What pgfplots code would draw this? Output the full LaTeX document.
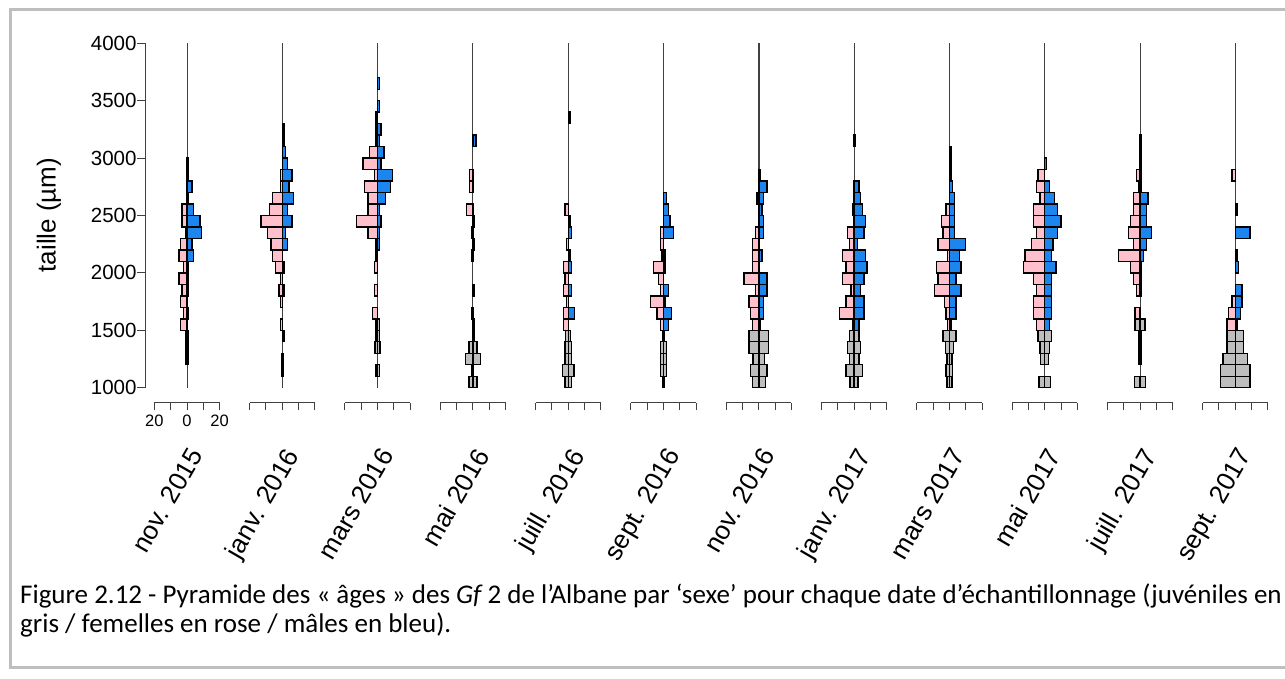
\documentclass[border=0pt]{standalone}
\usepackage{pgfplots}
\pgfplotsset{compat=1.18}
\usepackage{pgfplotstable}
\usepackage{fontspec}
\setmainfont{Liberation Sans}
\newfontfamily\carlito{Carlito}
\definecolor{rpink}{HTML}{FFC0CB}
\definecolor{rblue}{HTML}{1C86EE}
\definecolor{rgrey}{HTML}{BEBEBE}
\definecolor{axgrey}{HTML}{404040}

% columns: y = bin centre (um), f = females, m = males, j = juveniles
\pgfplotstableread{
y f m j
2950 0 1 0
2850 0 1 0
2750 0 3 0
2650 0 1 0
2550 3 4 0
2450 3 8 0
2350 1 9 0
2250 4 3 0
2150 5 4 0
2050 2 1 0
1950 5 1 0
1850 3 1 0
1750 4 0 0
1650 2 1 0
1550 4 0 0
1450 0 0 2
1350 0 1 2
1250 0 0 1
}\tA
\pgfplotstableread{
y f m j
3250 0 1 0
3150 0 1 0
3050 0 2 0
2950 0 3 0
2850 1 6 0
2750 1 4 0
2650 6 7 0
2550 8 3 0
2450 13 6 0
2350 9 2 0
2250 7 3 0
2150 6 0 0
2050 4 1 0
1950 1 0 0
1850 2 1 0
1750 1 0 0
1550 1 0 0
1450 0 1 0
1250 0 0 1
1150 0 0 1
}\tB
\pgfplotstableread{
y f m j
3650 0 1 0
3450 0 1 0
3350 1 0 0
3250 1 2 0
3150 1 1 0
3050 5 4 0
2950 9 2 0
2850 2 9 0
2750 8 8 0
2650 6 5 0
2550 6 1 0
2450 13 2 0
2350 6 1 0
2250 1 1 0
2150 1 0 0
2050 2 0 0
1850 2 0 0
1650 3 0 0
1550 0 0 2
1450 0 0 2
1350 0 0 3
1150 0 0 2
}\tC
\pgfplotstableread{
y f m j
3150 0 2 0
2850 2 0 0
2750 2 0 0
2550 4 0 0
2450 0 1 0
2350 1 0 0
2250 0 1 0
2150 1 0 0
1850 0 1 0
1650 1 0 0
1550 0 1 0
1450 0 1 0
1350 0 0 5
1250 0 0 9
1150 0 0 1
1050 0 0 5
}\tD
\pgfplotstableread{
y f m j
3350 0 1 0
2550 2 0 0
2450 0 1 0
2350 0 2 0
2250 1 0 0
2150 0 1 0
2050 3 2 0
1950 2 0 0
1850 3 2 0
1750 1 0 0
1650 3 4 0
1550 3 0 0
1450 0 0 3
1350 0 0 4
1250 0 0 4
1150 0 0 7
1050 0 0 4
}\tE
\pgfplotstableread{
y f m j
2650 0 2 0
2550 0 3 0
2450 0 4 0
2350 2 6 0
2250 2 0 0
2150 1 1 0
2050 6 1 0
1950 3 0 0
1850 2 3 0
1750 8 1 0
1650 4 5 0
1550 2 3 0
1450 0 0 1
1350 0 0 4
1250 0 0 4
1150 0 0 4
1050 0 0 1
}\tF
\pgfplotstableread{
y f m j
2850 0 1 0
2750 0 5 0
2650 1 3 0
2550 0 2 0
2450 0 3 0
2350 2 3 0
2250 4 0 0
2150 4 2 0
2050 4 0 0
1950 9 5 0
1850 2 5 0
1750 6 3 0
1650 5 3 0
1550 4 1 0
1450 0 0 12
1350 0 0 12
1250 0 0 7
1150 0 0 10
1050 0 0 8
}\tG
\pgfplotstableread{
y f m j
3150 0 1 0
2750 0 3 0
2650 0 4 0
2550 1 5 0
2450 0 7 0
2350 4 6 0
2250 3 2 0
2150 7 7 0
2050 5 8 0
1950 7 6 0
1850 2 4 0
1750 5 6 0
1650 9 6 0
1550 1 3 0
1450 0 0 6
1350 0 0 8
1250 0 0 6
1150 0 0 10
1050 0 0 5
}\tH
\pgfplotstableread{
y f m j
3050 0 1 0
2950 0 1 0
2850 0 1 0
2750 0 2 0
2650 0 3 0
2550 2 3 0
2450 5 3 0
2350 4 3 0
2250 7 10 0
2150 1 6 0
2050 8 7 0
1950 7 4 0
1850 9 7 0
1750 3 4 0
1650 2 4 0
1550 1 1 0
1450 0 0 8
1350 0 0 5
1250 0 0 3
1150 0 0 4
1050 0 0 3
}\tI
\pgfplotstableread{
y f m j
2950 0 1 0
2850 4 0 0
2750 5 3 0
2650 3 6 0
2550 7 8 0
2450 7 10 0
2350 5 8 0
2250 8 5 0
2150 12 4 0
2050 13 7 0
1950 7 4 0
1850 5 4 0
1750 7 4 0
1650 7 4 0
1550 5 3 0
1450 0 0 8
1350 0 0 6
1250 0 0 5
1050 0 0 7
}\tJ
\pgfplotstableread{
y f m j
3150 0 1 0
3050 0 1 0
2950 0 1 0
2850 2 1 0
2750 1 1 0
2650 4 5 0
2550 4 4 0
2450 6 4 0
2350 7 7 0
2250 4 4 0
2150 13 2 0
2050 6 1 0
1950 4 1 0
1850 2 1 0
1650 3 0 0
1550 0 0 6
1450 0 0 1
1350 0 0 1
1250 0 0 1
1050 0 0 7
}\tK
\pgfplotstableread{
y f m j
2850 2 0 0
2550 0 1 0
2350 0 9 0
2150 0 1 0
2050 0 2 0
1850 0 4 0
1750 2 4 0
1650 4 3 0
1550 5 1 0
1450 0 0 10
1350 0 0 10
1250 0 0 15
1150 0 0 18
1050 0 0 18
}\tL

\pgfplotsset{
  panel/.style={
    xbar, scale only axis, width=65.3pt, height=359.4pt,
    anchor=south west,
    xmin=-20, xmax=20, ymin=869.3, ymax=4000,
    axis x line*=bottom, axis y line=none,
    xtick={-20,-10,0,10,20}, xticklabels={},
    tick align=outside, major tick length=7.5pt,
    x axis line style={-, draw=axgrey, line width=1pt},
    xtick style={draw=axgrey, line width=1pt},
    clip=false,
  },
  bar/.style={bar shift=0pt, bar width=100, draw=black, line width=1.4pt},
  fem/.style={bar, fill=rpink},
  mal/.style={bar, fill=rblue},
  juv/.style={bar, fill=rgrey},
  centre/.style={sharp plot, draw=black!75, line width=0.9pt, forget plot},
}

% #1 centre x (px), #2 table, #3 date, #4 centre-line width
\newcommand{\panel}[4]{%
  \begin{axis}[panel, at={(#1pt-32.65pt,276.3pt)}]
    \addplot[centre, line width=#4] coordinates {(0,1000) (0,4000)};
    \addplot[fem] table[x expr=-\thisrow{f}, y=y, restrict expr to domain={\thisrow{f}}{0.5:100}] {#2};
    \addplot[mal] table[x expr=\thisrow{m}, y=y, restrict expr to domain={\thisrow{m}}{0.5:100}] {#2};
    \addplot[juv] table[x expr=-\thisrow{j}/2, y=y, restrict expr to domain={\thisrow{j}}{0.5:100}] {#2};
    \addplot[juv] table[x expr=\thisrow{j}/2, y=y, restrict expr to domain={\thisrow{j}}{0.5:100}] {#2};
  \end{axis}
  \node[rotate=60, anchor=north east, font=\fontsize{26}{30}\selectfont, inner sep=0pt] at (#1pt+1pt, 679pt-446pt) {#3};
}

\begin{document}
\begin{tikzpicture}[x=1pt, y=1pt]
\useasboundingbox (0,0) rectangle (1285,679);
\draw[draw=rgrey, line width=3pt] (10,679-10) rectangle (1300,679-668);

% y axis
\begin{axis}[scale only axis, width=20pt, height=344.4pt, anchor=south west,
  at={(145pt,291.3pt)}, xmin=0, xmax=1, ymin=1000, ymax=4000,
  axis y line*=left, axis x line=none,
  ytick={1000,1500,...,4000}, tick align=outside, major tick length=8pt,
  y axis line style={-, draw=axgrey, line width=1pt},
  ytick style={draw=axgrey, line width=1pt},
  yticklabel style={font=\fontsize{20.5}{24}\selectfont, xshift=3pt, /pgf/number format/1000 sep={}, /pgf/number format/assume math mode=true},
  ]
\end{axis}
\node[rotate=90, font=\fontsize{26}{30}\selectfont] at (49,679-215) {taille (µm)};

\panel{187}{\tA}{nov. 2015}{0.9pt}
\panel{282.3}{\tB}{janv. 2016}{0.9pt}
\panel{377.6}{\tC}{mars 2016}{0.9pt}
\panel{472.9}{\tD}{mai 2016}{0.9pt}
\panel{568.2}{\tE}{juill. 2016}{0.9pt}
\panel{663.5}{\tF}{sept. 2016}{0.9pt}
\panel{758.8}{\tG}{nov. 2016}{1.8pt}
\panel{854.1}{\tH}{janv. 2017}{0.9pt}
\panel{949.4}{\tI}{mars 2017}{1.8pt}
\panel{1044.7}{\tJ}{mai 2017}{0.9pt}
\panel{1140}{\tK}{juill. 2017}{0.9pt}
\panel{1235.3}{\tL}{sept. 2017}{0.9pt}

% x tick labels of the first panel
\foreach \v/\t in {-20/20, 0/0, 20/20}
  \node[font=\fontsize{16.5}{18}\selectfont, anchor=north] at (187+1.6325*\v, 679-411) {\t};

\node[anchor=base west, font=\carlito\fontsize{27}{29}\selectfont, inner sep=0pt] at (20,679-604)
 {Figure 2.12 - Pyramide des « âges » des {\itshape Gf} 2 de l’Albane par ‘sexe’ pour chaque date d’échantillonnage (juvéniles en};
\node[anchor=base west, font=\carlito\fontsize{27}{29}\selectfont, inner sep=0pt] at (20,679-633)
 {gris / femelles en rose / mâles en bleu).};
\end{tikzpicture}
\end{document}
